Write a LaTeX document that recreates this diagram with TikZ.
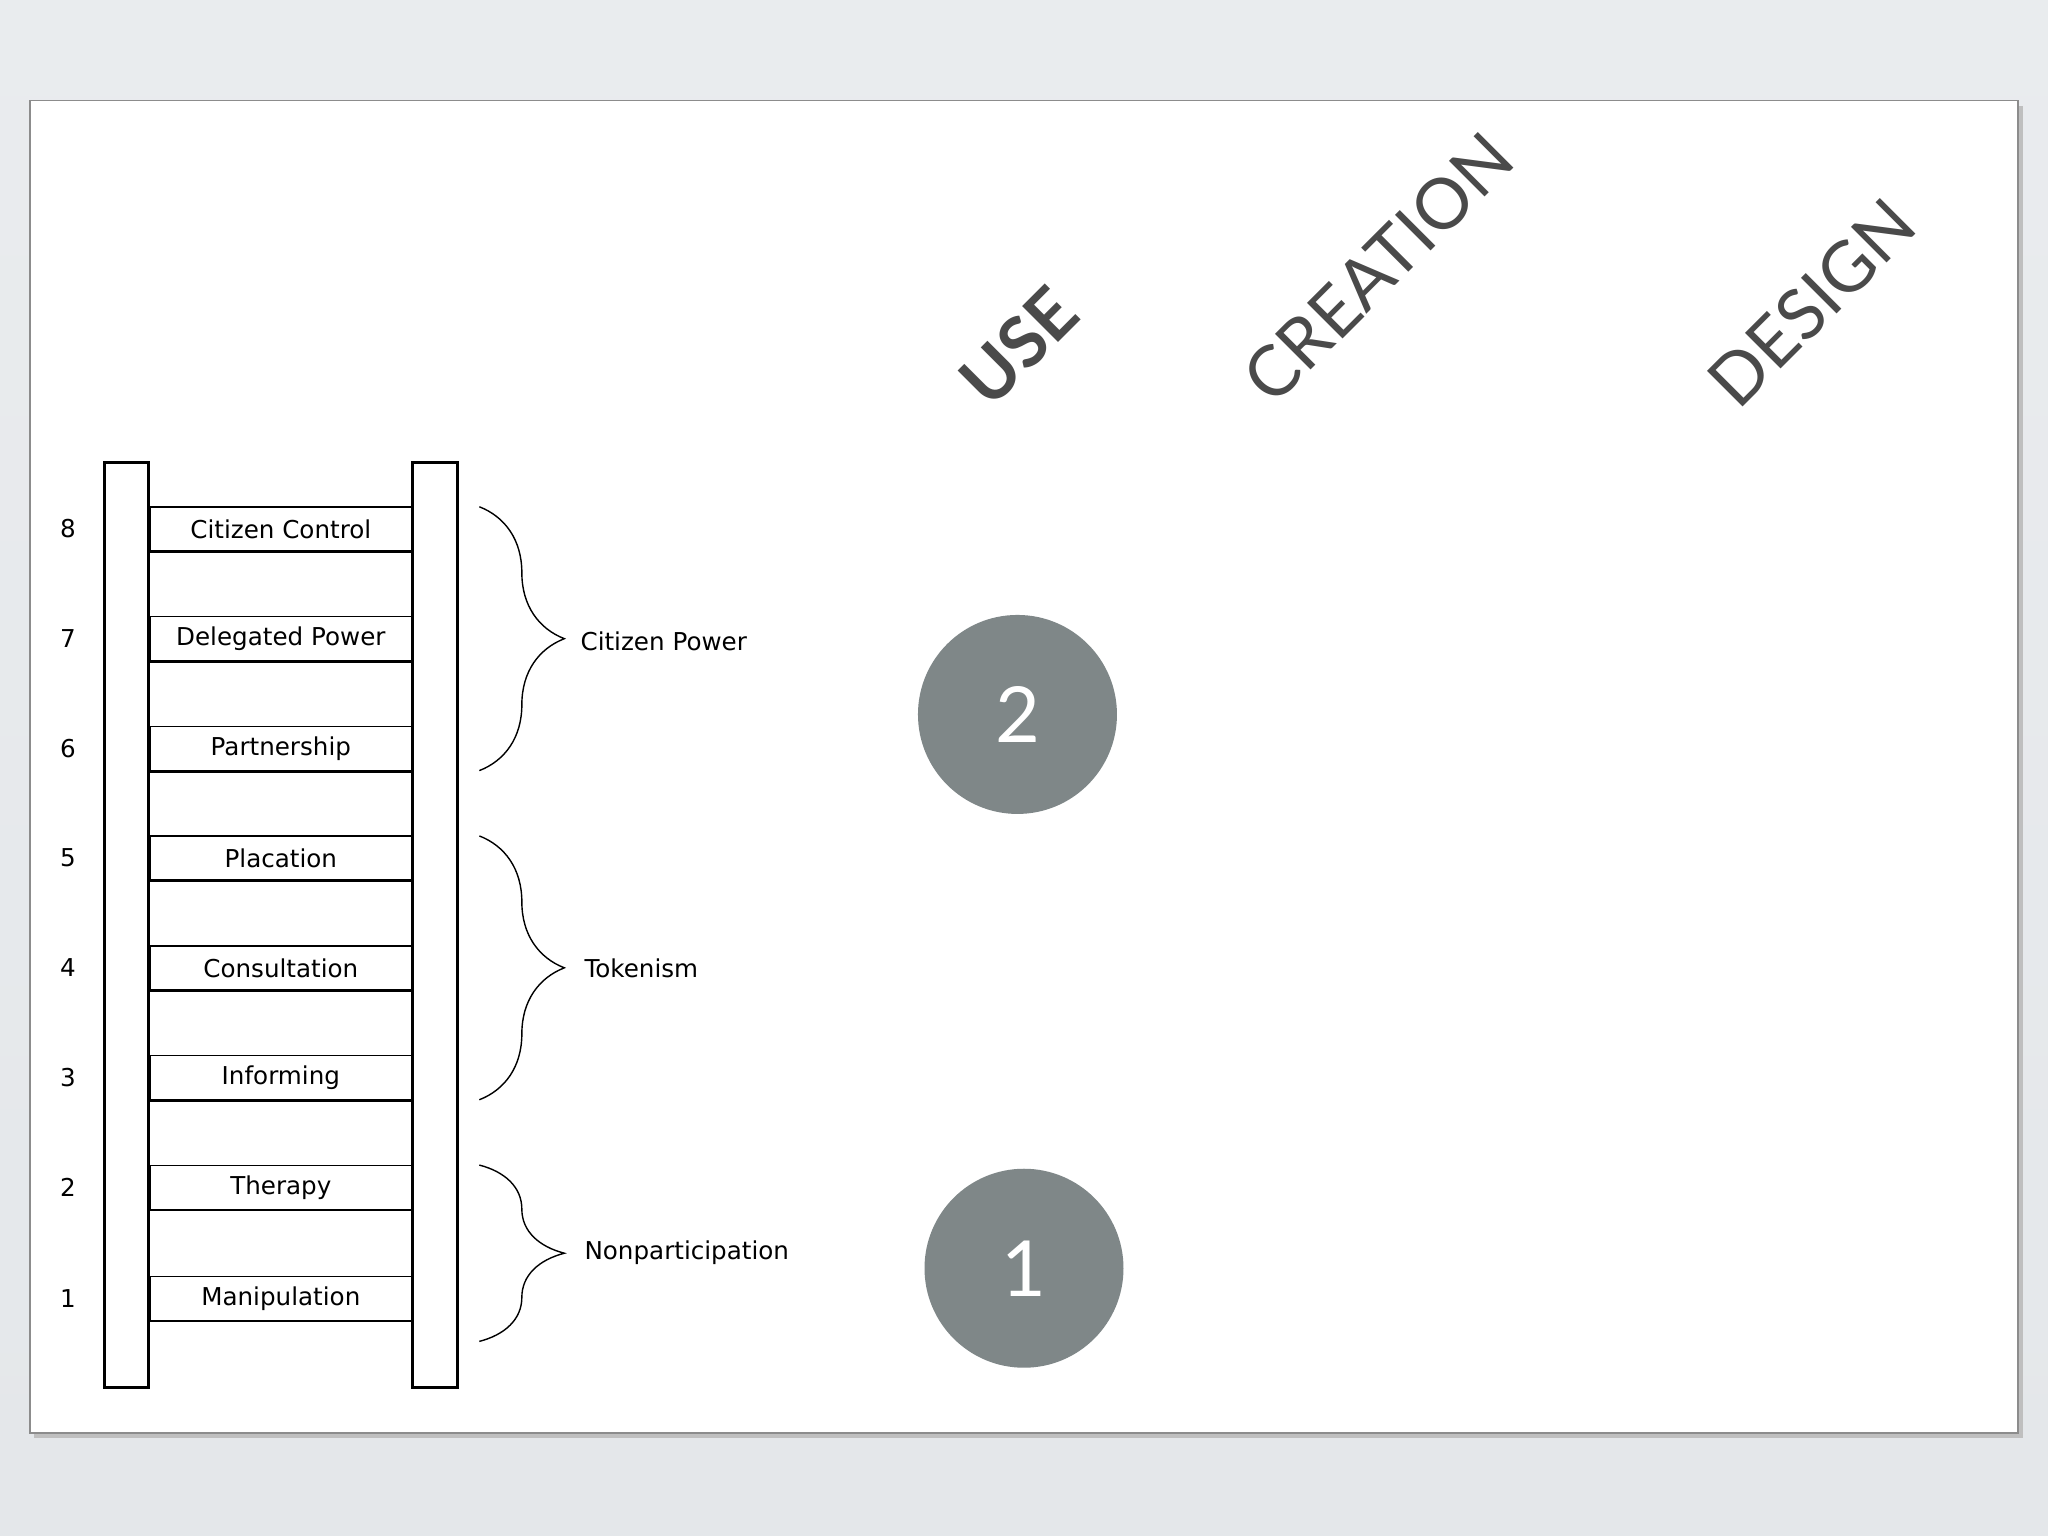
\documentclass[tikz,border=0pt]{standalone}
\usepackage{fontspec}
\setmainfont{DejaVu Sans}
\newfontfamily\slidefont{Lato}
\usetikzlibrary{decorations.pathreplacing}
\definecolor{slidegrey}{HTML}{E4E7EA}
\definecolor{dotgrey}{HTML}{7F8788}
\definecolor{headgrey}{HTML}{4A4A4A}
\tikzset{
  rail/.style={draw, thick, fill=white},
  rung/.style={draw, thin, minimum width=2.62cm, minimum height=0.44cm, inner sep=0pt, font=\fontsize{7}{8}\selectfont},
  step num/.style={font=\fontsize{7}{8}\selectfont},
  group brace/.style={decorate, decoration={brace, amplitude=0.85cm}, thin},
  group label/.style={anchor=west, font=\fontsize{7}{8}\selectfont},
  dot/.style={circle, fill=dotgrey, minimum size=1.99cm, text=white, font=\slidefont\fontsize{22}{24}\selectfont},
  head/.style={rotate=45, text=headgrey, font=\slidefont\fontsize{20}{22}\selectfont}
}
\begin{document}
\begin{tikzpicture}[x=0.01306cm, y=-0.01306cm]
    \useasboundingbox (0,0) rectangle (1568,1176);
    % Draw the background and the slide.
    \shade[top color=slidegrey!80, bottom color=slidegrey] (0,0) rectangle (1568,1176);
    \fill[black!25] (26,81) rectangle (1549,1101);
    \draw[black!45, fill=white] (23,77) rectangle (1545,1097);
    % Draw the rails.
    \draw[rail] (80,354) rectangle (114,1062);
    \draw[rail] (316,354) rectangle (350,1062);
    % Specify the rungs.
    \foreach \n/\y/\txt in {8/405/Citizen Control, 7/489/Delegated Power, 6/573/Partnership, 5/657/Placation, 4/741/Consultation, 3/825/Informing, 2/909/Therapy, 1/994/Manipulation} {
        \node[rung] (rung\n) at (215,\y) {\txt};
        \draw[thick] (rung\n.south west) -- (rung\n.south east);
        \node[step num] (num\n) at (52,\y) {\n};
    }
    % Specify the groups.
    \coordinate (power top) at (367,388);
    \coordinate (power bottom) at (367,590);
    \coordinate (token top) at (367,640);
    \coordinate (token bottom) at (367,842);
    \coordinate (non top) at (367,892);
    \coordinate (non bottom) at (367,1027);
    \draw[group brace] (power top) -- (power bottom);
    \draw[group brace] (token top) -- (token bottom);
    \draw[group brace] (non top) -- (non bottom);
    \node[group label] (power) at (435,491) {Citizen Power};
    \node[group label] (token) at (438,741) {Tokenism};
    \node[group label] (non) at (438,959) {Nonparticipation};
    % Specify the levels.
    \node[dot] (dot two) at (779,547) {2};
    \node[dot] (dot one) at (784,971) {1};
    \node[head, font=\slidefont\bfseries\fontsize{20}{22}\selectfont] (use) at (780,265) {USE};
    \node[head] (creation) at (1055,205) {CREATION};
    \node[head] (design) at (1387,232) {DESIGN};
\end{tikzpicture}
\end{document}
